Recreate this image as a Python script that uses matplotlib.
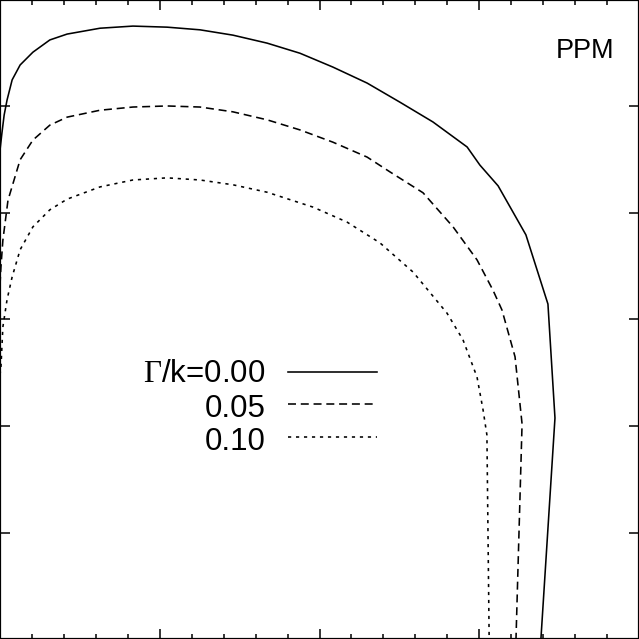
import matplotlib
matplotlib.use('Agg')
import matplotlib.pyplot as plt
from matplotlib.ticker import MultipleLocator, NullFormatter

plt.rcParams['font.family'] = ['Liberation Sans', 'DejaVu Sans']
plt.rcParams['mathtext.fontset'] = 'custom'
plt.rcParams['mathtext.rm'] = 'Liberation Serif'

# curves (arbitrary units, no axis labels shown)
x_000 = [0.000, 0.006, 0.013, 0.022, 0.038, 0.063, 0.103, 0.156, 0.210, 0.313,
         0.416, 0.523, 0.626, 0.729, 0.836, 0.939, 1.042, 1.149, 1.252, 1.355,
         1.462, 1.502, 1.559, 1.646, 1.715, 1.737, 1.693]
y_000 = [0.918, 0.950, 0.984, 1.012, 1.050, 1.078, 1.102, 1.125, 1.136, 1.147,
         1.151, 1.149, 1.144, 1.134, 1.119, 1.100, 1.074, 1.044, 1.008, 0.971,
         0.924, 0.890, 0.851, 0.759, 0.629, 0.415, 0.000]

x_005 = [0.000, 0.003, 0.009, 0.025, 0.063, 0.103, 0.156, 0.210, 0.313, 0.416,
         0.523, 0.626, 0.729, 0.836, 0.939, 1.042, 1.149, 1.221, 1.324, 1.418,
         1.493, 1.543, 1.571, 1.612, 1.634, 1.615]
y_005 = [0.665, 0.699, 0.749, 0.824, 0.900, 0.937, 0.965, 0.980, 0.993, 0.999,
         1.001, 0.999, 0.990, 0.975, 0.956, 0.933, 0.905, 0.877, 0.838, 0.774,
         0.712, 0.655, 0.618, 0.530, 0.404, 0.000]

x_010 = [0.000, 0.003, 0.009, 0.022, 0.038, 0.063, 0.103, 0.156, 0.210, 0.313,
         0.416, 0.523, 0.626, 0.729, 0.836, 0.980, 1.086, 1.189, 1.293, 1.399,
         1.449, 1.493, 1.512, 1.524, 1.531]
y_010 = [0.496, 0.511, 0.586, 0.637, 0.680, 0.731, 0.774, 0.806, 0.826, 0.849,
         0.862, 0.866, 0.862, 0.853, 0.839, 0.811, 0.783, 0.744, 0.689, 0.612,
         0.562, 0.492, 0.430, 0.383, 0.000]

labels = [r'$\Gamma$/k=0.00', '0.05', '0.10']
dashes = [None, (5, 3), (2, 3)]

fig = plt.figure(figsize=(6.39, 6.39), dpi=100)
ax = fig.add_axes([0, 0, 1, 1])

curves = [(x_000, y_000), (x_005, y_005), (x_010, y_010)]
for (xs, ys), d in zip(curves, dashes):
    line, = ax.plot(xs, ys, color='black', lw=1.15)
    if d is not None:
        line.set_dashes(d)

ax.set_xlim(0, 2)
ax.set_ylim(0, 1.2)

# ticks inward on every side, no labels
ax.xaxis.set_major_locator(MultipleLocator(0.5))
ax.xaxis.set_minor_locator(MultipleLocator(0.1))
ax.yaxis.set_major_locator(MultipleLocator(0.2))
ax.xaxis.set_major_formatter(NullFormatter())
ax.yaxis.set_major_formatter(NullFormatter())
ax.tick_params(which='both', direction='in', top=True, right=True, width=1.1)
ax.tick_params(which='major', length=7.2)
ax.tick_params(which='minor', length=3.6)
for s in ax.spines.values():
    s.set_linewidth(1.6)

# gnuplot style key
text_y = [0.402, 0.347, 0.296]
line_y = [0.418, 0.368, 0.316]
for lab, d, ty, ly in zip(labels, dashes, text_y, line_y):
    ax.text(0.415, ty, lab, transform=ax.transAxes, ha='right', va='baseline',
            fontsize=22.5)
    kl, = ax.plot([0.451, 0.590], [ly, ly], transform=ax.transAxes,
                  color='black', lw=1.15)
    if d is not None:
        kl.set_dashes(d)

ax.text(0.962, 0.909, 'PPM', transform=ax.transAxes, ha='right', va='baseline',
        fontsize=19.5)

plt.savefig('out.png', dpi=100)
plt.close()
